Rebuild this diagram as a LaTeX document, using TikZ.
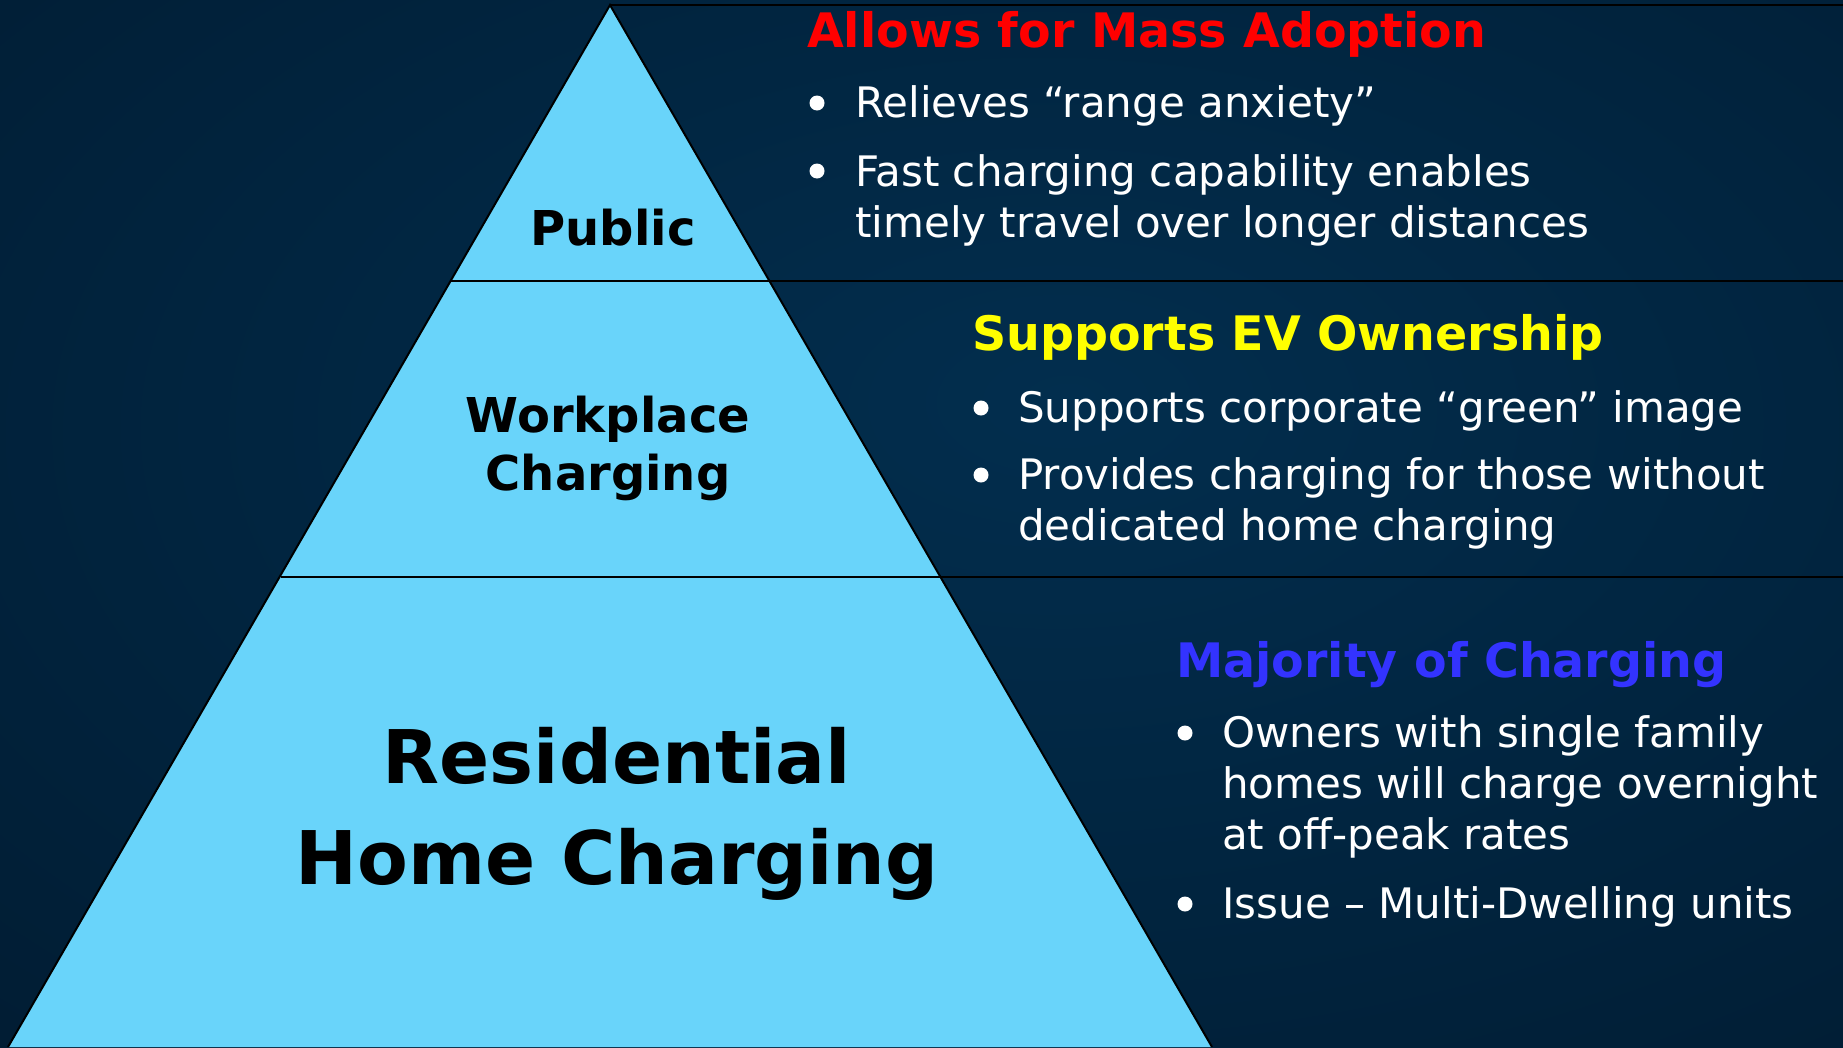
\documentclass[tikz,border=0pt]{standalone}
\usepackage{fontspec}
\setmainfont{DejaVu Sans}
\definecolor{bgin}{RGB}{2,46,78}
\definecolor{bgout}{RGB}{0,20,38}
\definecolor{pyr}{RGB}{105,212,250}
\definecolor{hred}{RGB}{255,0,0}
\definecolor{hyellow}{RGB}{255,255,0}
\definecolor{hblue}{RGB}{51,51,255}
\pgfdeclareradialshading{bgshade}{\pgfpoint{4bp}{6bp}}{color(0bp)=(bgin); color(60bp)=(bgout); color(100bp)=(bgout)}
\begin{document}
\begin{tikzpicture}[x=1pt,y=-1pt,
  body/.style={text=white, font=\fontsize{42}{51}\selectfont, anchor=base west, inner sep=0pt, align=left},
  head/.style={font=\bfseries\fontsize{47.5}{56}\selectfont, anchor=base west, inner sep=0pt},
  bul/.style={circle, fill=white, minimum size=15pt, inner sep=0pt},
  tier/.style={font=\bfseries\fontsize{48}{58}\selectfont, align=center, anchor=base, inner sep=0pt},
  sep/.style={draw=black, line width=2pt}]
\useasboundingbox (0,0) rectangle (1843,1047);
\shade[shading=bgshade] (0,0) rectangle (1843,1047);
% pyramid
\coordinate (apex) at (610,5);
\coordinate (bl) at (8,1047);
\coordinate (br) at (1212,1047);
\fill[pyr] (apex) -- (br) -- (bl) -- cycle;
\draw[sep] (bl) -- (apex) -- (br);
\coordinate (t0) at (1843,5);
\coordinate (l1) at (451,281); \coordinate (r1) at (1843,281);
\coordinate (l2) at (281,577); \coordinate (r2) at (1843,577);
\draw[sep] (apex) -- (t0);
\draw[sep] (l1) -- (r1);
\draw[sep] (l2) -- (r2);
% tier labels (anchor = baseline of last line)
\node[tier] (public) at (613,245) {Public};
\node[tier] (work) at (608,490) {Workplace\\Charging};
\node[tier, font=\bfseries\fontsize{74}{101}\selectfont] (res) at (617,884) {Residential\\Home Charging};
% top block
\node[head, text=hred] (h1) at (807,47) {Allows for Mass Adoption};
\node[bul] (d11) at (817,103) {};
\node[body] (b11) at (855,117) {Relieves “range anxiety”};
\node[bul] (d12) at (817,171) {};
\node[body] (b12) at (855,237) {Fast charging capability enables\\timely travel over longer distances};
% middle block
\node[head, text=hyellow] (h2) at (972,350) {Supports EV Ownership};
\node[bul] (d21) at (981,408) {};
\node[body] (b21) at (1018,422) {Supports corporate “green” image};
\node[bul] (d22) at (981,475) {};
\node[body] (b22) at (1018,540) {Provides charging for those without\\dedicated home charging};
% bottom block
\node[head, text=hblue] (h3) at (1176,677) {Majority of Charging};
\node[bul] (d31) at (1185,733) {};
\node[body] (b31) at (1222,849) {Owners with single family\\homes will charge overnight\\at off-peak rates};
\node[bul] (d32) at (1185,904) {};
\node[body] (b32) at (1222,918) {Issue – Multi-Dwelling units};
\end{tikzpicture}
\end{document}
